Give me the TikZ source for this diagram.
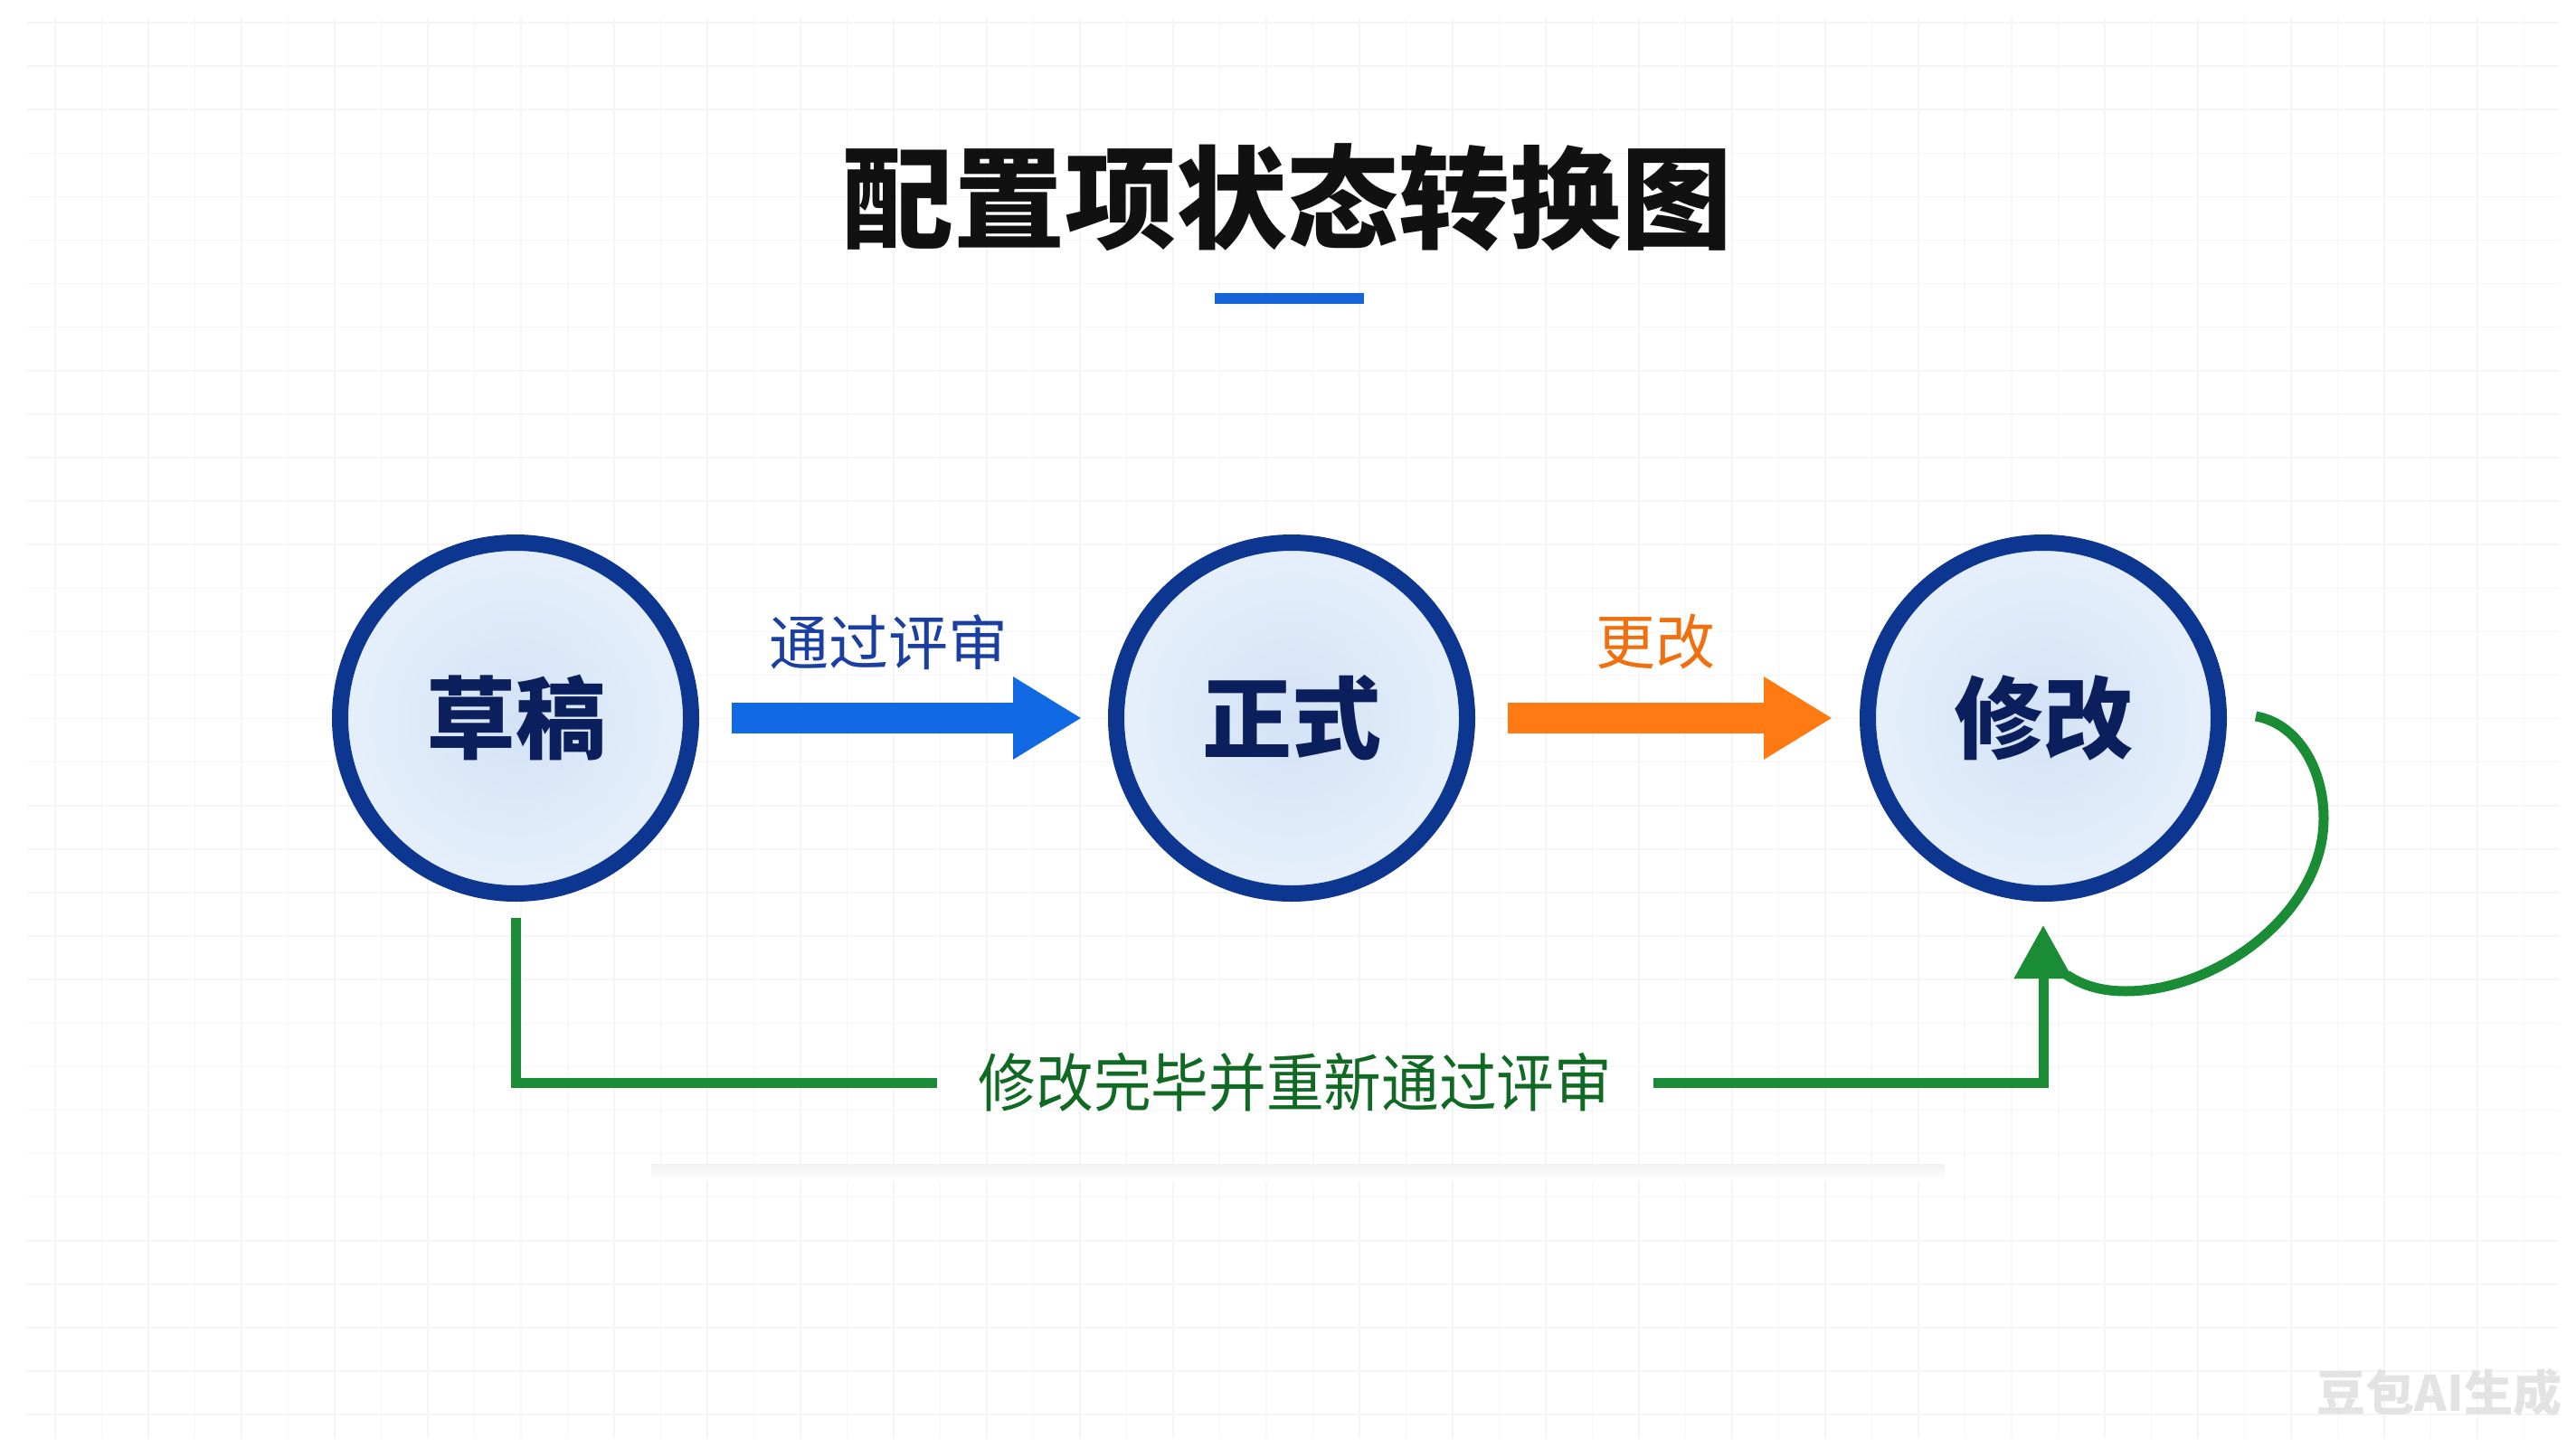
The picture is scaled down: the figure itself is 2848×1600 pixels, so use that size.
\documentclass[tikz,border=0pt]{standalone}
\usepackage{fontspec}
\usepackage{graphicx}
\usetikzlibrary{arrows.meta,calc}
\newfontfamily\cjk{Noto Sans CJK SC}
\definecolor{titleblack}{HTML}{111111}
\definecolor{barblue}{HTML}{1565D8}
\definecolor{ringblue}{HTML}{0D3690}
\definecolor{fillin}{HTML}{D3E2F6}
\definecolor{fillout}{HTML}{E6F0FB}
\definecolor{nodetext}{HTML}{0B1F5C}
\definecolor{arrblue}{HTML}{1169E4}
\definecolor{lblblue}{HTML}{1B3FA0}
\definecolor{arrorange}{HTML}{FF7A12}
\definecolor{lblorange}{HTML}{F0700F}
\definecolor{lngreen}{HTML}{1B8C36}
\definecolor{lblgreen}{HTML}{116A24}
\definecolor{gridc}{HTML}{F4F5F4}
\begin{document}
\begin{tikzpicture}[x=1pt,y=-1pt,
  state/.style={circle, draw=ringblue, line width=18pt, minimum size=388pt,
    inner sep=0pt, inner color=fillin, outer color=fillout, text=nodetext,
    font=\cjk\bfseries\fontsize{99}{110}\selectfont},
  fatarrow/.style={line width=34pt, -{Triangle[length=76pt,width=86pt]}},
  greenline/.style={draw=lngreen, line width=11pt},
  lbl/.style={inner sep=0pt, font=\cjk\fontsize{66}{72}\selectfont}
]
% background
\fill[white] (0,0) rectangle (2848,1600);
\useasboundingbox (0,0) rectangle (2848,1600);
\foreach \x in {61,112.5,...,2830} \draw[gridc, line width=1.5pt] (\x,20) -- (\x,1590);
\foreach \y in {25,73.1,...,1590} \draw[gridc, line width=1.5pt] (30,\y) -- (2830,\y);
\shade[top color=black!5, bottom color=white] (720,1287) rectangle (2150,1305);

% title
\node[text=titleblack, font=\cjk\bfseries\fontsize{123}{130}\selectfont, inner sep=0pt] (title) at (1423,218) {配置项状态转换图};
\fill[barblue] (1343,324) rectangle (1508,336);

% states
\node[state] (d) at (570,794) {草稿};
\node[state] (z) at (1428,794) {正式};
\node[state] (m) at (2259,794) {修改};

% forward arrows
\draw[fatarrow, arrblue] ([xshift=36pt]d.east) -- ([xshift=-29pt]z.west);
\node[lbl, text=lblblue] (l1) at (982,710) {通过评审};
\draw[fatarrow, arrorange] ([xshift=36pt]z.east) -- ([xshift=-30pt]m.west);
\node[lbl, text=lblorange] (l2) at (1830,710) {更改};

% return path
\coordinate (gs) at ([yshift=-18pt]d.south);
\coordinate (ge) at ([yshift=-26pt]m.south);
\node[font=\cjk\fontsize{70}{76}\selectfont, text=lblgreen, inner ysep=0pt, inner xsep=46pt, outer sep=0pt] (gl) at (1432,1197) {\scalebox{0.91}[1]{修改完毕并重新通过评审}};
\draw[greenline] (gs) |- (gl.west);
\draw[greenline, -{Triangle[length=59pt,width=62pt]}] (gl.east) -| (ge);

% self loop
\coordinate (ls) at ([xshift=32pt,yshift=2pt]m.east);
\coordinate (le) at (2285,1078);
\draw[greenline] (ls) .. controls (2540,800) and (2569,850) .. (2569,905)
  .. controls (2569,1010) and (2450,1096) .. (2350,1096)
  .. controls (2320,1096) and (2300,1088) .. (le);

% watermark
\node[text=black!11, font=\cjk\bfseries\fontsize{54}{60}\selectfont, inner sep=0pt] (wm) at (2697,1540) {豆包AI生成};
\end{tikzpicture}
\end{document}
